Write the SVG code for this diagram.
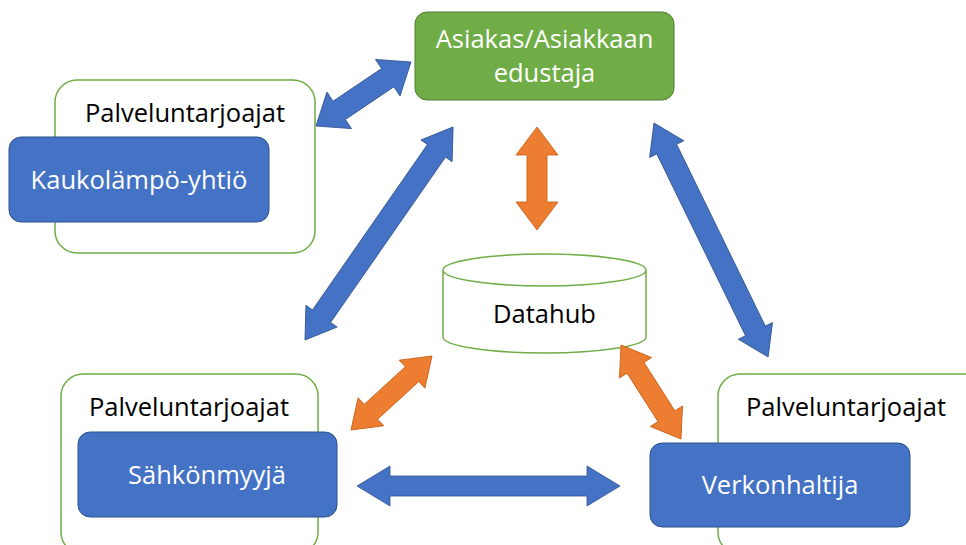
<svg xmlns="http://www.w3.org/2000/svg" width="966" height="545" viewBox="0 0 966 545">
<style>
.outline{fill:#fff;stroke:#70AD47;stroke-width:1.5}
.blue{fill:#4472C4;stroke:#2F528F;stroke-width:1}
.green{fill:#70AD47;stroke:#507E32;stroke-width:1}
.wt{fill:#fff;font-family:"Open Sans","Noto Sans",sans-serif;font-size:25.5px;text-anchor:middle}
.bt{fill:#000;font-family:"Open Sans","Noto Sans",sans-serif;font-size:25.5px;text-anchor:middle}
.ab{fill:#4472C4;stroke:#2F528F;stroke-width:0.8}
.ao{fill:#ED7D31;stroke:#C55A11;stroke-width:0.8}
</style>
<rect width="966" height="545" fill="#fff"/>
<g id="asiakas">
<rect class="green" x="415" y="12" width="259" height="88" rx="12"/>
<text class="wt" x="544.5" y="48">Asiakas/Asiakkaan</text>
<text class="wt" x="544.5" y="82">edustaja</text>
</g>
<g id="kaukolampo">
<rect class="outline" x="55" y="80" width="260" height="173" rx="22"/>
<text class="bt" x="185" y="122">Palveluntarjoajat</text>
<rect class="blue" x="9" y="137" width="260" height="85" rx="12"/>
<text class="wt" x="139" y="189">Kaukolämpö-yhtiö</text>
</g>
<g id="datahub">
<path class="outline" d="M443,270 v67 a101.5,16 0 0 0 203,0 v-67 a101.5,16 0 0 0 -203,0 a101.5,16 0 0 0 203,0"/>
<text class="bt" x="544.5" y="323">Datahub</text>
</g>
<g id="sahkonmyyja">
<rect class="outline" x="61" y="374" width="257" height="180" rx="22"/>
<text class="bt" x="189" y="416">Palveluntarjoajat</text>
<rect class="blue" x="78" y="432" width="259" height="85" rx="12"/>
<text class="wt" x="207" y="484">Sähkönmyyjä</text>
</g>
<g id="verkonhaltija">
<rect class="outline" x="718" y="374" width="270" height="180" rx="22"/>
<text class="bt" x="846" y="416">Palveluntarjoajat</text>
<rect class="blue" x="650" y="443" width="260" height="84" rx="12"/>
<text class="wt" x="780" y="494">Verkonhaltija</text>
</g>
<g id="connectors">
<polygon class="ab" transform="translate(316,126) rotate(-33.97)" points="0,0 28,-22 28,-11 86.5,-11 86.5,-22 114.5,0 86.5,22 86.5,11 28,11 28,22"/>
<polygon class="ab" transform="translate(305,340) rotate(-55.2)" points="0,0 29,-19 29,-11 230.4,-11 230.4,-19 259.4,0 230.4,19 230.4,11 29,11 29,19"/>
<polygon class="ab" transform="translate(654,123) rotate(64.0)" points="0,0 29,-19 29,-11 231.3,-11 231.3,-19 260.3,0 231.3,19 231.3,11 29,11 29,19"/>
<polygon class="ab" transform="translate(357,486)" points="0,0 33,-20 33,-10 230,-10 230,-20 263,0 230,20 230,10 33,10 33,20"/>
<polygon class="ao" transform="translate(537,127) rotate(90)" points="0,0 28,-21 28,-10 75,-10 75,-21 103,0 75,21 75,10 28,10 28,21"/>
<polygon class="ao" transform="translate(432,356) rotate(137.6)" points="0,0 27,-19 27,-10 82.7,-10 82.7,-19 109.7,0 82.7,19 82.7,10 27,10 27,19"/>
<polygon class="ao" transform="translate(621,345) rotate(57.45)" points="0,0 27,-19 27,-10 84.5,-10 84.5,-19 111.5,0 84.5,19 84.5,10 27,10 27,19"/>
</g>
</svg>
